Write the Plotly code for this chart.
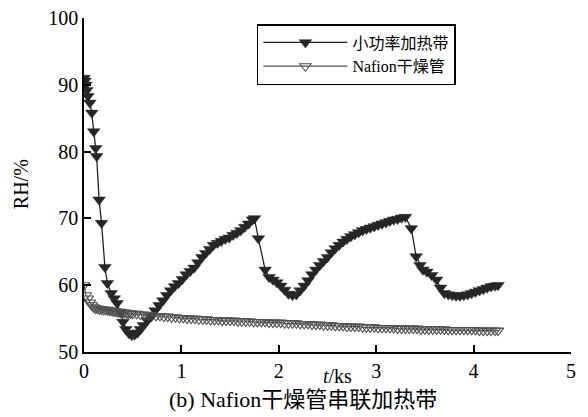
import plotly.graph_objects as go

# 小功率加热带 series
t_heat = [0.00, 0.01, 0.02, 0.03, 0.04, 0.06, 0.08, 0.10, 0.12, 0.13, 0.155, 0.18, 0.215, 0.24,
          0.28, 0.31, 0.34, 0.37, 0.40, 0.43, 0.46, 0.49, 0.52, 0.55, 0.58, 0.61, 0.65, 0.69,
          0.73, 0.77, 0.81, 0.85, 0.89, 0.93, 0.97, 1.01, 1.05, 1.09, 1.13, 1.17, 1.21, 1.25,
          1.29, 1.33, 1.37, 1.41, 1.45, 1.49, 1.53, 1.57, 1.61, 1.65, 1.69, 1.73, 1.75, 1.79,
          1.86, 1.90, 1.94, 1.98, 2.02, 2.06, 2.10, 2.14, 2.18, 2.22, 2.26, 2.30, 2.34, 2.38,
          2.42, 2.46, 2.50, 2.54, 2.58, 2.62, 2.66, 2.70, 2.74, 2.78, 2.82, 2.86, 2.90, 2.94,
          2.98, 3.02, 3.06, 3.10, 3.14, 3.18, 3.22, 3.26, 3.30, 3.36, 3.41, 3.45, 3.48, 3.52,
          3.57, 3.62, 3.66, 3.70, 3.74, 3.78, 3.82, 3.86, 3.90, 3.94, 3.98, 4.02, 4.06, 4.10,
          4.14, 4.18, 4.22, 4.25]
rh_heat = [91.0, 90.6, 90.0, 89.2, 88.3, 87.3, 85.8, 83.0, 80.5, 79.3, 72.8, 69.3, 62.7, 60.3,
           58.8, 58.0, 57.3, 56.0, 54.5, 53.4, 52.8, 52.5, 52.6, 52.9, 53.4, 54.0, 54.7, 55.3,
           56.2, 57.0, 57.7, 58.5, 59.2, 59.8, 60.3, 60.9, 61.6, 62.1, 62.6, 63.4, 64.2, 64.8,
           65.4, 66.0, 66.3, 66.6, 66.9, 67.1, 67.5, 67.8, 68.2, 68.7, 69.2, 69.8, 70.0, 67.0,
           62.3, 61.2, 60.8, 60.4, 59.9, 59.3, 58.7, 58.5, 58.6, 59.2, 59.9, 60.7, 61.6, 62.3,
           63.0, 63.6, 64.2, 64.9, 65.5, 66.0, 66.5, 66.9, 67.3, 67.6, 67.9, 68.2, 68.4, 68.6,
           68.8, 69.0, 69.2, 69.4, 69.6, 69.8, 69.9, 70.1, 70.2, 68.5, 64.3, 63.0, 62.3, 62.0,
           61.5, 60.8, 59.6, 58.8, 58.6, 58.5, 58.4, 58.4, 58.5, 58.6, 58.8, 59.0, 59.2, 59.4,
           59.6, 59.8, 59.9, 60.0]

# Nafion干燥管 series
t_nafion = [0.00, 0.02, 0.04, 0.06, 0.08, 0.10, 0.12, 0.14, 0.16, 0.18, 0.20, 0.22, 0.24, 0.26,
            0.28, 0.30, 0.32, 0.34, 0.36, 0.38, 0.40, 0.42, 0.44, 0.46, 0.48, 0.50, 0.54, 0.58,
            0.62, 0.66, 0.70, 0.74, 0.78, 0.82, 0.86, 0.90, 0.94, 0.98, 1.02, 1.06, 1.10, 1.14,
            1.18, 1.22, 1.26, 1.30, 1.34, 1.38, 1.42, 1.46, 1.50, 1.54, 1.58, 1.62, 1.66, 1.70,
            1.74, 1.78, 1.82, 1.86, 1.90, 1.94, 1.98, 2.02, 2.06, 2.10, 2.14, 2.18, 2.22, 2.26,
            2.30, 2.34, 2.38, 2.42, 2.46, 2.50, 2.54, 2.58, 2.62, 2.66, 2.70, 2.74, 2.78, 2.82,
            2.86, 2.90, 2.94, 2.98, 3.02, 3.06, 3.10, 3.14, 3.18, 3.22, 3.26, 3.30, 3.34, 3.38,
            3.42, 3.46, 3.50, 3.54, 3.58, 3.62, 3.66, 3.70, 3.74, 3.78, 3.82, 3.86, 3.90, 3.94,
            3.98, 4.02, 4.06, 4.10, 4.14, 4.18, 4.22, 4.25]
rh_nafion = [60.0, 58.5, 58.0, 57.4, 57.0, 56.7, 56.5, 56.5, 56.4, 56.4, 56.3, 56.3, 56.3, 56.2,
             56.2, 56.1, 56.1, 56.0, 56.0, 55.9, 55.9, 55.9, 55.8, 55.8, 55.8, 55.7, 55.7, 55.6,
             55.6, 55.5, 55.5, 55.4, 55.4, 55.3, 55.3, 55.2, 55.2, 55.1, 55.1, 55.0, 55.0, 55.0,
             54.9, 54.9, 54.9, 54.8, 54.8, 54.8, 54.7, 54.7, 54.7, 54.7, 54.6, 54.6, 54.6, 54.6,
             54.5, 54.5, 54.5, 54.5, 54.4, 54.4, 54.4, 54.4, 54.3, 54.3, 54.3, 54.3, 54.2, 54.2,
             54.2, 54.1, 54.1, 54.1, 54.0, 54.0, 54.0, 53.9, 53.9, 53.9, 53.8, 53.8, 53.8, 53.8,
             53.7, 53.7, 53.7, 53.7, 53.6, 53.6, 53.6, 53.6, 53.6, 53.5, 53.5, 53.5, 53.5, 53.5,
             53.5, 53.4, 53.4, 53.4, 53.4, 53.4, 53.4, 53.4, 53.3, 53.3, 53.3, 53.3, 53.3, 53.3,
             53.3, 53.3, 53.2, 53.2, 53.2, 53.2, 53.2, 53.2]

x_ticks = [0, 1, 2, 3, 4, 5]
y_ticks = [50, 60, 70, 80, 90, 100]

series_names = ["小功率加热带", "Nafion干燥管"]
x_title = "<i>t</i>/ks"
y_title = "RH/%"
caption = "(b) Nafion干燥管串联加热带"

FONT = "Liberation Serif, Times New Roman, Noto Sans CJK SC, serif"

fig = go.Figure()
fig.add_trace(go.Scatter(
    x=t_heat, y=rh_heat, mode="lines+markers", name=series_names[0],
    line=dict(color="#222222", width=1.3),
    marker=dict(symbol="triangle-down", size=11, color="#262626",
                line=dict(color="#262626", width=0.5)),
))
fig.add_trace(go.Scatter(
    x=t_nafion, y=rh_nafion, mode="lines+markers", name=series_names[1],
    line=dict(color="#505050", width=1.2),
    marker=dict(symbol="triangle-down-open", size=10, color="#505050",
                line=dict(color="#505050", width=1.1)),
))

# page body adds an 8px offset: figure is 580x409 so it fits the 588x417 window
fig.update_layout(
    width=580, height=409,
    margin=dict(l=76, r=17, t=10, b=65, autoexpand=False),
    paper_bgcolor="white", plot_bgcolor="white",
    font=dict(family=FONT, size=20, color="black"),
    showlegend=True,
    legend=dict(
        x=0.355, y=0.982, xanchor="left", yanchor="top",
        bordercolor="black", borderwidth=1.5, bgcolor="white",
        font=dict(family=FONT, size=16, color="black"),
        itemwidth=84, tracegroupgap=0,
    ),
    xaxis=dict(
        range=[0, 5], tickvals=x_ticks, ticktext=[str(v) for v in x_ticks],
        showline=True, linecolor="black", linewidth=1.5, mirror=False,
        ticks="inside", ticklen=7, tickwidth=1.5, tickcolor="black",
        showgrid=False, zeroline=False, ticklabeloverflow="allow", automargin=False,
        tickfont=dict(family=FONT, size=20, color="black"),
    ),
    yaxis=dict(
        range=[50, 100], tickvals=y_ticks, ticktext=[str(v) for v in y_ticks],
        showline=True, linecolor="black", linewidth=1.5, mirror=False,
        ticks="inside", ticklen=7, tickwidth=1.5, tickcolor="black",
        showgrid=False, zeroline=False, ticklabeloverflow="allow", automargin=False,
        tickfont=dict(family=FONT, size=20, color="black"),
    ),
    annotations=[
        dict(text=x_title, xref="paper", yref="paper", x=0.52, y=-0.073,
             xanchor="center", yanchor="middle", showarrow=False,
             font=dict(family=FONT, size=20, color="black")),
        dict(text=y_title, xref="paper", yref="paper", x=-0.129, y=0.503,
             xanchor="center", yanchor="middle", showarrow=False, textangle=-90,
             font=dict(family=FONT, size=20, color="black")),
        dict(text=caption, xref="paper", yref="paper", x=0.45, y=-0.143,
             xanchor="center", yanchor="middle", showarrow=False,
             font=dict(family=FONT, size=22, color="black")),
    ],
)

fig.write_html("out.html")
